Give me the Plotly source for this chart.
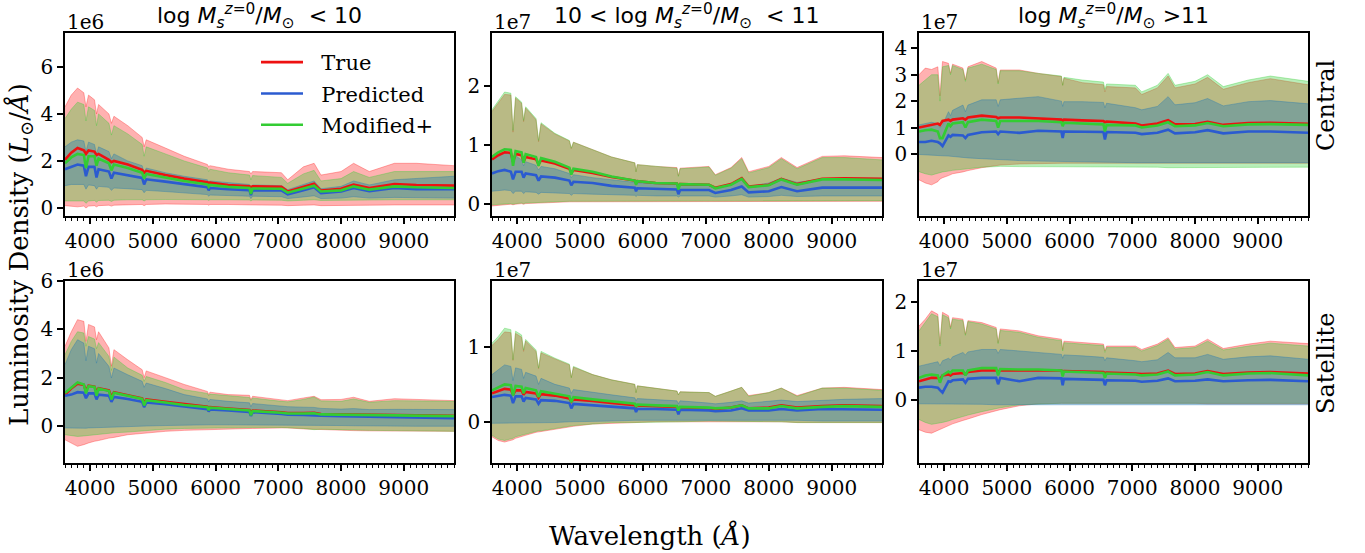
import plotly.graph_objects as go

# ---------------- data (values in units of each panel's multiplier) ----------------
WL = [3600, 3700, 3800, 3900, 3934, 3975, 4070, 4102, 4135, 4300, 4340, 4380, 4600, 4830, 4861, 4895,
      5200, 5500, 5870, 5890, 5910, 6200, 6540, 6563, 6590, 7050, 7150, 7400, 7570, 7680, 8000, 8200,
      8450, 8850, 9200, 9800]
X_TICKS = [4000, 5000, 6000, 7000, 8000, 9000]

# Top-left: log M < 10, central (1e6)
TL_true_hi = [4.3, 4.8, 5.1, 4.9, 4.3, 4.8, 4.6, 4.0, 4.4, 4.0, 3.6, 3.9, 3.5, 3.0, 2.6, 2.9, 2.55, 2.2, 1.85, 1.75, 1.8, 1.65, 1.55, 1.45, 1.55, 1.5, 1.2, 1.75, 1.9, 1.4, 1.55, 1.9, 1.55, 1.9, 1.9, 1.8]
TL_true_lo = [0.1, 0.08, 0.05, 0.08, 0.0, 0.08, 0.1, 0.05, 0.1, 0.12, 0.08, 0.12, 0.15, 0.15, 0.1, 0.15, 0.17, 0.17, 0.15, 0.12, 0.15, 0.15, 0.13, 0.1, 0.13, 0.12, 0.1, 0.12, 0.13, 0.1, 0.12, 0.13, 0.12, 0.13, 0.13, 0.13]
TL_mod_hi = [3.8, 4.2, 4.5, 4.4, 3.7, 4.3, 4.15, 3.5, 4.0, 3.6, 3.1, 3.5, 3.15, 2.7, 2.2, 2.6, 2.3, 2.0, 1.7, 1.55, 1.65, 1.5, 1.4, 1.2, 1.38, 1.3, 1.05, 1.45, 1.6, 1.15, 1.25, 1.55, 1.3, 1.55, 1.55, 1.55]
TL_mod_lo = [0.3, 0.3, 0.28, 0.3, 0.2, 0.3, 0.32, 0.25, 0.32, 0.33, 0.28, 0.33, 0.35, 0.35, 0.3, 0.35, 0.36, 0.36, 0.35, 0.32, 0.35, 0.35, 0.34, 0.3, 0.34, 0.33, 0.3, 0.33, 0.35, 0.32, 0.33, 0.35, 0.33, 0.35, 0.35, 0.35]
TL_pred_hi = [2.6, 2.8, 2.9, 2.85, 2.4, 2.8, 2.7, 2.3, 2.6, 2.4, 2.1, 2.3, 2.0, 1.8, 1.5, 1.7, 1.5, 1.35, 1.2, 1.1, 1.15, 1.08, 1.0, 0.85, 0.98, 0.95, 0.78, 1.0, 1.15, 0.82, 0.92, 1.15, 0.98, 1.2, 1.25, 1.35]
TL_pred_lo = [0.95, 1.0, 1.0, 1.0, 0.8, 0.98, 0.95, 0.8, 0.92, 0.88, 0.75, 0.85, 0.82, 0.78, 0.65, 0.75, 0.7, 0.65, 0.57, 0.5, 0.55, 0.53, 0.5, 0.4, 0.5, 0.48, 0.4, 0.47, 0.52, 0.4, 0.42, 0.48, 0.42, 0.45, 0.43, 0.42]
TL_true_med = [2.05, 2.35, 2.55, 2.45, 2.3, 2.45, 2.4, 2.25, 2.3, 2.05, 1.95, 2.0, 1.85, 1.62, 1.5, 1.58, 1.4, 1.25, 1.1, 1.05, 1.08, 0.98, 0.92, 0.88, 0.92, 0.9, 0.7, 0.9, 1.03, 0.74, 0.82, 1.0, 0.85, 1.02, 0.98, 0.95]
TL_mod_med = [1.9, 2.15, 2.3, 2.25, 1.7, 2.2, 2.2, 1.8, 2.1, 1.9, 1.6, 1.85, 1.7, 1.5, 1.25, 1.45, 1.3, 1.15, 1.0, 0.9, 0.98, 0.9, 0.85, 0.6, 0.83, 0.82, 0.65, 0.82, 0.95, 0.7, 0.75, 0.92, 0.78, 0.92, 0.88, 0.85]
TL_pred_med = [1.65, 1.75, 1.85, 1.8, 1.35, 1.75, 1.75, 1.3, 1.65, 1.55, 1.25, 1.5, 1.4, 1.28, 1.0, 1.22, 1.12, 1.02, 0.88, 0.75, 0.85, 0.8, 0.76, 0.55, 0.75, 0.75, 0.58, 0.75, 0.88, 0.63, 0.7, 0.85, 0.72, 0.85, 0.8, 0.8]

# Top-middle: 10 < log M < 11, central (1e7)
TM_true_hi = [1.57, 1.72, 1.86, 1.85, 1.22, 1.8, 1.71, 1.4, 1.63, 1.43, 1.06, 1.36, 1.19, 1.07, 0.94, 1.05, 0.92, 0.8, 0.7, 0.55, 0.67, 0.64, 0.62, 0.48, 0.61, 0.64, 0.5, 0.62, 0.79, 0.55, 0.64, 0.79, 0.62, 0.81, 0.82, 0.79]
TM_true_lo = [-0.03, -0.02, -0.01, 0.0, -0.01, 0.0, 0.01, 0.0, 0.01, 0.02, 0.02, 0.02, 0.03, 0.04, 0.04, 0.04, 0.05, 0.05, 0.05, 0.05, 0.05, 0.05, 0.05, 0.05, 0.05, 0.05, 0.05, 0.05, 0.05, 0.05, 0.05, 0.05, 0.05, 0.05, 0.05, 0.05]
TM_mod_hi = [1.6, 1.75, 1.9, 1.88, 1.25, 1.82, 1.73, 1.42, 1.65, 1.45, 1.08, 1.38, 1.2, 1.08, 0.95, 1.05, 0.92, 0.8, 0.7, 0.55, 0.67, 0.64, 0.61, 0.47, 0.6, 0.63, 0.49, 0.61, 0.77, 0.53, 0.62, 0.77, 0.6, 0.79, 0.79, 0.75]
TM_mod_lo = [-0.01, 0.0, 0.0, 0.01, 0.0, 0.01, 0.02, 0.01, 0.02, 0.03, 0.03, 0.03, 0.04, 0.05, 0.05, 0.05, 0.06, 0.06, 0.06, 0.06, 0.06, 0.06, 0.06, 0.06, 0.06, 0.06, 0.06, 0.06, 0.06, 0.06, 0.06, 0.06, 0.06, 0.06, 0.06, 0.06]
TM_pred_hi = [0.77, 0.83, 0.87, 0.85, 0.7, 0.82, 0.75, 0.65, 0.72, 0.66, 0.58, 0.64, 0.6, 0.52, 0.45, 0.5, 0.45, 0.41, 0.37, 0.33, 0.36, 0.35, 0.34, 0.28, 0.33, 0.32, 0.28, 0.33, 0.45, 0.3, 0.36, 0.44, 0.37, 0.43, 0.44, 0.44]
TM_pred_lo = [0.22, 0.23, 0.24, 0.23, 0.18, 0.22, 0.22, 0.18, 0.21, 0.2, 0.17, 0.2, 0.19, 0.18, 0.15, 0.18, 0.17, 0.16, 0.15, 0.13, 0.15, 0.14, 0.14, 0.12, 0.14, 0.14, 0.12, 0.14, 0.16, 0.12, 0.13, 0.15, 0.13, 0.14, 0.14, 0.14]
TM_true_med = [0.76, 0.83, 0.88, 0.87, 0.72, 0.85, 0.83, 0.72, 0.8, 0.76, 0.68, 0.74, 0.69, 0.6, 0.53, 0.58, 0.53, 0.46, 0.4, 0.36, 0.39, 0.36, 0.35, 0.3, 0.34, 0.33, 0.28, 0.34, 0.44, 0.3, 0.33, 0.43, 0.34, 0.43, 0.44, 0.43]
TM_mod_med = [0.8, 0.88, 0.93, 0.92, 0.65, 0.9, 0.88, 0.7, 0.85, 0.8, 0.65, 0.78, 0.72, 0.62, 0.5, 0.6, 0.55, 0.47, 0.4, 0.33, 0.39, 0.36, 0.35, 0.25, 0.34, 0.33, 0.27, 0.33, 0.43, 0.29, 0.32, 0.42, 0.33, 0.42, 0.42, 0.41]
TM_pred_med = [0.52, 0.56, 0.58, 0.55, 0.42, 0.55, 0.55, 0.45, 0.52, 0.49, 0.4, 0.47, 0.45, 0.4, 0.32, 0.38, 0.36, 0.31, 0.28, 0.22, 0.27, 0.26, 0.25, 0.17, 0.24, 0.24, 0.19, 0.24, 0.3, 0.2, 0.22, 0.29, 0.22, 0.28, 0.28, 0.28]

# Top-right: log M > 11, central (1e7)
TR_true_hi = [3.0, 3.25, 3.2, 3.3, 2.2, 3.5, 3.43, 3.05, 3.4, 3.25, 2.8, 3.3, 3.5, 3.25, 2.7, 3.18, 3.18, 3.05, 2.93, 2.6, 2.87, 2.7, 2.62, 2.35, 2.55, 2.5, 2.25, 2.5, 2.95, 2.5, 2.65, 2.9, 2.45, 2.7, 2.85, 2.62]
TR_true_lo = [-0.98, -1.1, -1.17, -1.05, -0.95, -0.9, -0.82, -0.78, -0.75, -0.68, -0.65, -0.63, -0.52, -0.45, -0.43, -0.42, -0.38, -0.36, -0.35, -0.35, -0.35, -0.35, -0.35, -0.35, -0.35, -0.35, -0.35, -0.35, -0.35, -0.35, -0.35, -0.35, -0.35, -0.35, -0.35, -0.35]
TR_mod_hi = [2.6, 2.8, 3.0, 3.0, 2.0, 3.3, 3.35, 3.0, 3.35, 3.2, 2.75, 3.25, 3.4, 3.2, 2.65, 3.15, 3.15, 3.05, 2.95, 2.6, 2.9, 2.8, 2.72, 2.45, 2.65, 2.6, 2.35, 2.6, 3.05, 2.6, 2.75, 3.0, 2.55, 2.8, 2.95, 2.75]
TR_mod_lo = [-0.67, -0.75, -0.8, -0.72, -0.7, -0.68, -0.65, -0.63, -0.62, -0.58, -0.57, -0.56, -0.5, -0.48, -0.47, -0.47, -0.48, -0.48, -0.48, -0.48, -0.48, -0.48, -0.48, -0.48, -0.48, -0.48, -0.5, -0.5, -0.52, -0.52, -0.5, -0.52, -0.5, -0.5, -0.5, -0.5]
TR_pred_hi = [1.1, 1.15, 1.2, 1.15, 1.0, 1.1, 1.6, 1.45, 1.65, 1.85, 1.6, 1.85, 2.05, 2.05, 1.8, 2.05, 2.12, 2.17, 2.0, 1.8, 1.98, 1.98, 1.95, 1.75, 1.92, 1.75, 1.67, 1.8, 2.17, 1.86, 1.94, 2.1, 1.82, 1.98, 2.02, 1.9]
TR_pred_lo = [-0.02, -0.04, -0.05, -0.06, -0.06, -0.07, -0.08, -0.09, -0.1, -0.13, -0.14, -0.15, -0.18, -0.21, -0.22, -0.23, -0.25, -0.27, -0.29, -0.29, -0.29, -0.3, -0.31, -0.31, -0.31, -0.33, -0.33, -0.33, -0.33, -0.33, -0.33, -0.33, -0.33, -0.33, -0.33, -0.33]
TR_true_med = [1.0, 1.05, 1.1, 1.15, 1.1, 1.25, 1.3, 1.25, 1.3, 1.35, 1.3, 1.38, 1.45, 1.4, 1.35, 1.38, 1.38, 1.35, 1.3, 1.25, 1.3, 1.27, 1.25, 1.2, 1.23, 1.15, 1.08, 1.15, 1.28, 1.12, 1.13, 1.22, 1.1, 1.17, 1.18, 1.14]
TR_mod_med = [0.85, 0.9, 0.92, 0.85, 0.6, 0.6, 1.15, 1.05, 1.15, 1.2, 1.0, 1.2, 1.3, 1.25, 1.0, 1.25, 1.25, 1.25, 1.2, 1.05, 1.18, 1.15, 1.12, 0.85, 1.1, 1.08, 1.0, 1.08, 1.2, 1.05, 1.08, 1.17, 1.05, 1.12, 1.13, 1.1]
TR_pred_med = [0.45, 0.45, 0.5, 0.45, 0.4, 0.3, 0.7, 0.65, 0.72, 0.7, 0.6, 0.72, 0.82, 0.85, 0.75, 0.85, 0.8, 0.88, 0.85, 0.6, 0.85, 0.85, 0.83, 0.55, 0.83, 0.8, 0.75, 0.8, 0.92, 0.78, 0.82, 0.9, 0.78, 0.85, 0.85, 0.8]

# Bottom-left: log M < 10, satellite (1e6)
BL_true_hi = [3.3, 3.9, 4.4, 4.33, 3.5, 4.2, 4.1, 3.57, 3.9, 3.23, 2.47, 3.16, 2.74, 2.33, 2.0, 2.28, 2.0, 1.72, 1.43, 1.3, 1.4, 1.3, 1.27, 1.09, 1.23, 1.09, 1.05, 1.16, 1.23, 1.09, 1.1, 1.19, 1.02, 1.13, 1.09, 1.05]
BL_true_lo = [-0.57, -0.7, -0.84, -0.77, -0.75, -0.7, -0.63, -0.6, -0.6, -0.5, -0.5, -0.47, -0.36, -0.3, -0.3, -0.27, -0.22, -0.18, -0.15, -0.15, -0.14, -0.12, -0.1, -0.1, -0.1, -0.08, -0.08, -0.12, -0.14, -0.15, -0.18, -0.19, -0.2, -0.21, -0.22, -0.22]
BL_mod_hi = [2.95, 3.5, 3.9, 3.85, 3.3, 3.7, 3.6, 3.2, 3.45, 2.88, 2.3, 2.85, 2.4, 2.1, 1.85, 2.05, 1.8, 1.5, 1.35, 1.25, 1.32, 1.25, 1.18, 1.05, 1.16, 1.02, 1.0, 1.1, 1.2, 1.04, 1.02, 1.12, 0.98, 1.05, 1.04, 1.02]
BL_mod_lo = [-0.36, -0.4, -0.43, -0.41, -0.4, -0.38, -0.36, -0.35, -0.34, -0.3, -0.29, -0.28, -0.25, -0.2, -0.18, -0.17, -0.13, -0.1, -0.08, -0.08, -0.08, -0.07, -0.06, -0.06, -0.06, -0.06, -0.07, -0.1, -0.15, -0.13, -0.15, -0.17, -0.18, -0.19, -0.2, -0.22]
BL_pred_hi = [2.54, 3.16, 3.57, 3.43, 2.7, 3.3, 3.2, 2.6, 3.0, 2.47, 1.99, 2.4, 2.12, 1.85, 1.6, 1.78, 1.55, 1.3, 1.12, 1.0, 1.1, 1.02, 0.96, 0.8, 0.93, 0.82, 0.8, 0.78, 0.77, 0.73, 0.7, 0.72, 0.68, 0.69, 0.68, 0.68]
BL_pred_lo = [-0.08, -0.09, -0.1, -0.09, -0.09, -0.08, -0.07, -0.07, -0.06, -0.05, -0.05, -0.04, -0.03, -0.01, -0.01, 0.0, 0.02, 0.04, 0.05, 0.05, 0.05, 0.05, 0.05, 0.05, 0.05, 0.05, 0.05, 0.04, 0.03, 0.03, 0.02, 0.01, 0.0, -0.01, -0.01, -0.01]
BL_true_med = [1.3, 1.55, 1.75, 1.7, 1.45, 1.67, 1.63, 1.4, 1.56, 1.47, 1.2, 1.4, 1.27, 1.14, 0.95, 1.1, 1.0, 0.9, 0.8, 0.72, 0.78, 0.72, 0.66, 0.55, 0.64, 0.57, 0.54, 0.54, 0.55, 0.5, 0.49, 0.49, 0.46, 0.46, 0.44, 0.42]
BL_mod_med = [1.37, 1.6, 1.8, 1.72, 1.35, 1.65, 1.62, 1.25, 1.55, 1.45, 1.1, 1.38, 1.25, 1.12, 0.85, 1.07, 0.97, 0.87, 0.78, 0.65, 0.76, 0.7, 0.64, 0.45, 0.62, 0.55, 0.52, 0.52, 0.53, 0.48, 0.47, 0.47, 0.44, 0.44, 0.42, 0.41]
BL_pred_med = [1.25, 1.3, 1.4, 1.38, 1.15, 1.35, 1.35, 1.1, 1.3, 1.25, 1.0, 1.2, 1.12, 1.0, 0.78, 0.97, 0.9, 0.8, 0.7, 0.6, 0.69, 0.64, 0.58, 0.42, 0.57, 0.5, 0.47, 0.46, 0.46, 0.43, 0.41, 0.4, 0.37, 0.37, 0.35, 0.32]

# Bottom-middle: 10 < log M < 11, satellite (1e7)
BM_true_hi = [1.02, 1.1, 1.2, 1.19, 0.82, 1.18, 1.13, 0.94, 1.08, 0.94, 0.71, 0.92, 0.84, 0.76, 0.59, 0.73, 0.63, 0.56, 0.5, 0.39, 0.48, 0.45, 0.41, 0.36, 0.4, 0.39, 0.34, 0.41, 0.46, 0.35, 0.39, 0.45, 0.35, 0.45, 0.46, 0.43]
BM_true_lo = [-0.2, -0.25, -0.27, -0.25, -0.24, -0.22, -0.2, -0.19, -0.18, -0.14, -0.13, -0.13, -0.1, -0.07, -0.06, -0.06, -0.03, -0.02, -0.01, -0.01, -0.01, 0.0, 0.0, 0.0, 0.0, 0.01, 0.01, 0.01, 0.0, 0.0, 0.0, 0.0, -0.01, -0.01, -0.01, -0.01]
BM_mod_hi = [1.05, 1.14, 1.25, 1.23, 0.83, 1.21, 1.16, 0.96, 1.1, 0.96, 0.72, 0.94, 0.85, 0.77, 0.59, 0.74, 0.63, 0.56, 0.5, 0.39, 0.48, 0.45, 0.41, 0.36, 0.4, 0.39, 0.34, 0.41, 0.46, 0.34, 0.39, 0.45, 0.34, 0.45, 0.45, 0.42]
BM_mod_lo = [-0.18, -0.23, -0.25, -0.23, -0.22, -0.2, -0.18, -0.17, -0.16, -0.13, -0.12, -0.12, -0.09, -0.06, -0.05, -0.05, -0.03, -0.01, -0.01, -0.01, -0.01, 0.0, 0.0, 0.0, 0.0, 0.01, 0.01, 0.01, 0.0, 0.0, 0.0, 0.0, -0.01, -0.01, -0.01, -0.01]
BM_pred_hi = [0.63, 0.7, 0.76, 0.74, 0.55, 0.72, 0.7, 0.58, 0.66, 0.61, 0.5, 0.58, 0.5, 0.45, 0.38, 0.43, 0.39, 0.36, 0.32, 0.28, 0.31, 0.3, 0.28, 0.24, 0.28, 0.25, 0.24, 0.26, 0.28, 0.25, 0.27, 0.29, 0.27, 0.29, 0.3, 0.31]
BM_pred_lo = [-0.02, -0.02, -0.02, -0.02, -0.02, -0.02, -0.02, -0.02, -0.02, -0.01, -0.01, -0.01, -0.01, 0.0, 0.0, 0.0, 0.0, 0.01, 0.02, 0.02, 0.02, 0.02, 0.02, 0.02, 0.02, 0.03, 0.03, 0.03, 0.02, 0.02, 0.02, 0.02, 0.02, 0.01, 0.01, 0.01]
BM_true_med = [0.38, 0.41, 0.44, 0.43, 0.36, 0.42, 0.42, 0.36, 0.4, 0.38, 0.32, 0.37, 0.35, 0.31, 0.27, 0.3, 0.28, 0.25, 0.22, 0.2, 0.22, 0.21, 0.2, 0.17, 0.19, 0.18, 0.17, 0.19, 0.22, 0.18, 0.19, 0.22, 0.19, 0.21, 0.22, 0.21]
BM_mod_med = [0.42, 0.46, 0.5, 0.49, 0.35, 0.48, 0.47, 0.38, 0.45, 0.42, 0.33, 0.41, 0.38, 0.34, 0.26, 0.33, 0.3, 0.27, 0.24, 0.2, 0.23, 0.22, 0.21, 0.15, 0.2, 0.19, 0.18, 0.19, 0.22, 0.18, 0.18, 0.21, 0.18, 0.2, 0.21, 0.2]
BM_pred_med = [0.33, 0.35, 0.36, 0.35, 0.25, 0.34, 0.34, 0.27, 0.32, 0.3, 0.24, 0.29, 0.28, 0.25, 0.18, 0.24, 0.22, 0.2, 0.18, 0.13, 0.17, 0.17, 0.16, 0.1, 0.16, 0.15, 0.14, 0.15, 0.18, 0.15, 0.15, 0.17, 0.15, 0.17, 0.17, 0.16]

# Bottom-right: log M > 11, satellite (1e7)
BR_true_hi = [1.51, 1.65, 1.82, 1.75, 1.14, 1.79, 1.72, 1.48, 1.68, 1.65, 1.34, 1.62, 1.58, 1.48, 1.17, 1.45, 1.41, 1.31, 1.24, 1.03, 1.2, 1.17, 1.14, 1.0, 1.1, 1.1, 1.03, 1.14, 1.27, 1.07, 1.1, 1.24, 1.05, 1.14, 1.2, 1.15]
BR_true_lo = [-0.61, -0.66, -0.68, -0.62, -0.6, -0.57, -0.52, -0.5, -0.49, -0.42, -0.41, -0.39, -0.3, -0.22, -0.21, -0.2, -0.12, -0.08, -0.07, -0.07, -0.07, -0.06, -0.06, -0.06, -0.06, -0.06, -0.06, -0.07, -0.07, -0.07, -0.07, -0.08, -0.08, -0.08, -0.08, -0.08]
BR_mod_hi = [1.41, 1.58, 1.76, 1.7, 1.1, 1.74, 1.68, 1.45, 1.65, 1.62, 1.32, 1.6, 1.55, 1.45, 1.15, 1.42, 1.38, 1.28, 1.21, 1.0, 1.17, 1.14, 1.11, 0.97, 1.07, 1.07, 1.0, 1.11, 1.24, 1.04, 1.07, 1.2, 1.02, 1.1, 1.16, 1.1]
BR_mod_lo = [-0.4, -0.46, -0.5, -0.48, -0.47, -0.46, -0.43, -0.41, -0.4, -0.34, -0.33, -0.31, -0.24, -0.18, -0.17, -0.16, -0.1, -0.08, -0.07, -0.07, -0.07, -0.07, -0.07, -0.07, -0.07, -0.07, -0.07, -0.07, -0.07, -0.07, -0.07, -0.07, -0.07, -0.07, -0.07, -0.07]
BR_pred_hi = [0.69, 0.72, 0.76, 0.78, 0.7, 0.8, 0.85, 0.82, 0.88, 0.97, 0.92, 0.98, 1.03, 1.03, 0.95, 1.03, 1.0, 0.97, 0.93, 0.85, 0.92, 0.9, 0.87, 0.8, 0.86, 0.8, 0.78, 0.82, 0.97, 0.86, 0.86, 0.93, 0.83, 0.88, 0.9, 0.83]
BR_pred_lo = [-0.08, -0.08, -0.08, -0.08, -0.08, -0.08, -0.08, -0.08, -0.08, -0.09, -0.09, -0.09, -0.09, -0.1, -0.1, -0.1, -0.1, -0.1, -0.1, -0.1, -0.1, -0.1, -0.1, -0.1, -0.1, -0.1, -0.1, -0.1, -0.1, -0.1, -0.1, -0.1, -0.1, -0.1, -0.1, -0.1]
BR_true_med = [0.38, 0.42, 0.45, 0.45, 0.42, 0.5, 0.52, 0.5, 0.53, 0.55, 0.52, 0.57, 0.6, 0.6, 0.58, 0.6, 0.6, 0.6, 0.6, 0.56, 0.59, 0.58, 0.57, 0.55, 0.56, 0.54, 0.53, 0.54, 0.6, 0.53, 0.54, 0.59, 0.53, 0.56, 0.57, 0.54]
BR_mod_med = [0.45, 0.5, 0.52, 0.5, 0.35, 0.5, 0.58, 0.55, 0.6, 0.6, 0.5, 0.6, 0.65, 0.65, 0.5, 0.63, 0.62, 0.62, 0.6, 0.48, 0.58, 0.57, 0.55, 0.45, 0.54, 0.52, 0.5, 0.52, 0.58, 0.5, 0.52, 0.57, 0.5, 0.54, 0.55, 0.5]
BR_pred_med = [0.25, 0.27, 0.27, 0.25, 0.2, 0.15, 0.38, 0.37, 0.4, 0.42, 0.35, 0.43, 0.45, 0.45, 0.32, 0.45, 0.38, 0.45, 0.44, 0.3, 0.43, 0.42, 0.41, 0.3, 0.4, 0.39, 0.37, 0.39, 0.44, 0.38, 0.39, 0.42, 0.38, 0.4, 0.41, 0.38]

TITLES = [
    "log <i>M</i><sub><i>s</i></sub><sup><i>z</i>=0</sup>/<i>M</i><sub>⊙</sub>  &lt; 10",
    "10 &lt; log <i>M</i><sub><i>s</i></sub><sup><i>z</i>=0</sup>/<i>M</i><sub>⊙</sub>  &lt; 11",
    "log <i>M</i><sub><i>s</i></sub><sup><i>z</i>=0</sup>/<i>M</i><sub>⊙</sub> &gt;11",
]
ROW_LABELS = ["Central", "Satellite"]
MULTIPLIERS = ["1e6", "1e7", "1e7", "1e6", "1e7", "1e7"]
Y_RANGES = [(-0.34, 7.44), (-0.2, 2.9), (-2.35, 4.58), (-1.53, 6.0), (-0.55, 1.88), (-1.29, 2.43)]
Y_TICKS = [[0, 2, 4, 6], [0, 1, 2], [0, 1, 2, 3, 4], [0, 2, 4, 6], [0, 1], [0, 1, 2]]

PANELS = [
    dict(true=(TL_true_lo, TL_true_hi, TL_true_med), mod=(TL_mod_lo, TL_mod_hi, TL_mod_med), pred=(TL_pred_lo, TL_pred_hi, TL_pred_med)),
    dict(true=(TM_true_lo, TM_true_hi, TM_true_med), mod=(TM_mod_lo, TM_mod_hi, TM_mod_med), pred=(TM_pred_lo, TM_pred_hi, TM_pred_med)),
    dict(true=(TR_true_lo, TR_true_hi, TR_true_med), mod=(TR_mod_lo, TR_mod_hi, TR_mod_med), pred=(TR_pred_lo, TR_pred_hi, TR_pred_med)),
    dict(true=(BL_true_lo, BL_true_hi, BL_true_med), mod=(BL_mod_lo, BL_mod_hi, BL_mod_med), pred=(BL_pred_lo, BL_pred_hi, BL_pred_med)),
    dict(true=(BM_true_lo, BM_true_hi, BM_true_med), mod=(BM_mod_lo, BM_mod_hi, BM_mod_med), pred=(BM_pred_lo, BM_pred_hi, BM_pred_med)),
    dict(true=(BR_true_lo, BR_true_hi, BR_true_med), mod=(BR_mod_lo, BR_mod_hi, BR_mod_med), pred=(BR_pred_lo, BR_pred_hi, BR_pred_med)),
]
for _p in PANELS:
    for _k in _p.values():
        for _arr in _k:
            assert len(_arr) == len(WL), len(_arr)

# ---------------- styling ----------------
W, H = 1365, 553
SERIF = "DejaVu Serif"
SANS = "DejaVu Sans"
LINE_COL = {"true": "#ee1111", "pred": "#2b5bd0", "mod": "#33cc33"}
BAND_COL = {"true": "rgba(255,40,40,0.36)", "mod": "rgba(50,205,50,0.34)", "pred": "rgba(31,119,180,0.36)"}
NAMES = {"true": "\u00a0\u00a0True", "pred": "\u00a0\u00a0Predicted", "mod": "\u00a0\u00a0Modified+"}

COLS_PX = [(65, 454), (492, 882), (919, 1308)]
ROWS_PX = [(33, 216), (281, 463)]

fig = go.Figure()
layout = {}
for i, p in enumerate(PANELS):
    n = i + 1
    xa = "x" if n == 1 else f"x{n}"
    ya = "y" if n == 1 else f"y{n}"
    for key in ["true", "mod", "pred"]:
        lo, hi, _ = p[key]
        fig.add_trace(go.Scatter(x=WL, y=lo, xaxis=xa, yaxis=ya, mode="lines",
                                 line=dict(color=BAND_COL[key], width=1), showlegend=False, hoverinfo="skip"))
        fig.add_trace(go.Scatter(x=WL, y=hi, xaxis=xa, yaxis=ya, mode="lines", fill="tonexty",
                                 fillcolor=BAND_COL[key],
                                 line=dict(color=BAND_COL[key], width=1), showlegend=False, hoverinfo="skip"))
    for key in ["true", "pred", "mod"]:
        fig.add_trace(go.Scatter(x=WL, y=p[key][2], xaxis=xa, yaxis=ya, mode="lines",
                                 line=dict(color=LINE_COL[key], width=2.6), name=NAMES[key],
                                 legendgroup=key, showlegend=(n == 1)))

    c, r = i % 3, i // 3
    x0, x1 = COLS_PX[c]
    y0, y1 = ROWS_PX[r]
    xdom = [x0 / W, x1 / W]
    ydom = [1 - y1 / H, 1 - y0 / H]
    axis_common = dict(showline=True, linecolor="black", linewidth=1.5, mirror=True,
                       ticks="outside", tickcolor="black", tickwidth=1.5, ticklen=6,
                       showgrid=False, zeroline=False, automargin=False,
                       tickfont=dict(family=SERIF, size=20, color="black"))
    layout["xaxis" if n == 1 else f"xaxis{n}"] = dict(
        domain=xdom, anchor=ya, range=[3600, 9800], tickvals=X_TICKS,
        minor=dict(dtick=100, tick0=3600, ticks="outside", ticklen=3.5, tickcolor="black", tickwidth=1),
        **axis_common)
    layout["yaxis" if n == 1 else f"yaxis{n}"] = dict(
        domain=ydom, anchor=xa, range=list(Y_RANGES[i]), tickvals=Y_TICKS[i], **axis_common)

fig.update_layout(**layout)

annotations = []
for i, mult in enumerate(MULTIPLIERS):
    c, r = i % 3, i // 3
    annotations.append(dict(text=mult, x=COLS_PX[c][0] / W, y=1 - ROWS_PX[r][0] / H, xref="paper", yref="paper",
                            xanchor="left", yanchor="bottom", yshift=-3, showarrow=False,
                            font=dict(family=SERIF, size=20, color="black")))
for c, t in enumerate(TITLES):
    annotations.append(dict(text=t, x=(COLS_PX[c][0] + COLS_PX[c][1]) / 2 / W, y=1 - ROWS_PX[0][0] / H,
                            xref="paper", yref="paper", xanchor="center", yanchor="bottom", yshift=-1,
                            showarrow=False, font=dict(family=SANS, size=22, color="black")))
annotations.append(dict(text=ROW_LABELS[0], x=1326 / W, y=1 - 106 / H, xref="paper", yref="paper",
                        textangle=-90, showarrow=False, xanchor="center", yanchor="middle",
                        font=dict(family=SERIF, size=24, color="black")))
annotations.append(dict(text=ROW_LABELS[1], x=1326 / W, y=1 - 364 / H, xref="paper", yref="paper",
                        textangle=-90, showarrow=False, xanchor="center", yanchor="middle",
                        font=dict(family=SERIF, size=24, color="black")))
annotations.append(dict(text="Luminosity Density (<i>L</i><sub>⊙</sub>/<i>Å</i>)", x=20 / W, y=1 - 255 / H,
                        xref="paper", yref="paper", textangle=-90, showarrow=False,
                        xanchor="center", yanchor="middle", font=dict(family=SERIF, size=26, color="black")))
annotations.append(dict(text="Wavelength (<i>Å</i>)", x=650 / W, y=1 - 535 / H, xref="paper", yref="paper",
                        showarrow=False, xanchor="center", yanchor="middle",
                        font=dict(family=SERIF, size=26, color="black")))

fig.update_layout(
    width=W, height=H, margin=dict(l=0, r=0, t=0, b=0),
    paper_bgcolor="white", plot_bgcolor="white",
    annotations=annotations,
    legend=dict(x=256 / W, y=1 - 42 / H, xanchor="left", yanchor="top",
                font=dict(family=SERIF, size=21, color="black"), bgcolor="rgba(0,0,0,0)",
                itemwidth=42, tracegroupgap=1, traceorder="grouped"),
)

fig.write_html("out.html")
